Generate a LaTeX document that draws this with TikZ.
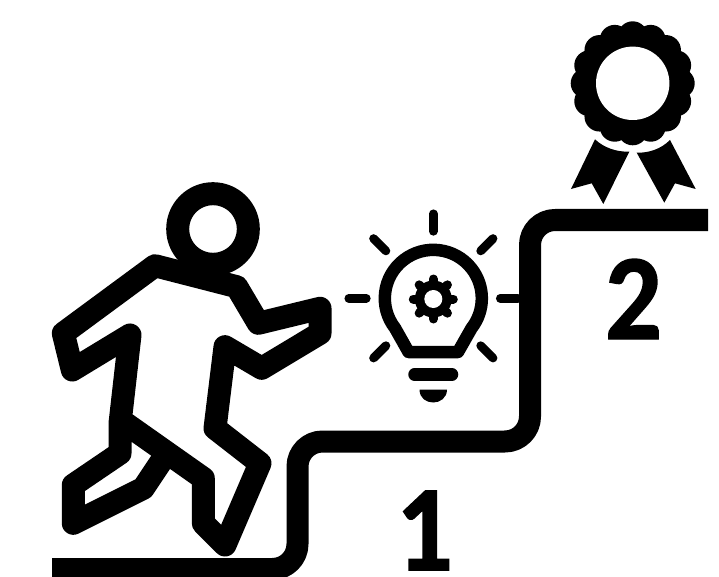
\documentclass[tikz,border=0pt]{standalone}
\usepackage{fontspec}
\setmainfont{Carlito}
\usepackage{xcolor}
\usetikzlibrary{calc}

\begin{document}
\begin{tikzpicture}[x=1pt,y=-1pt,
    thickline/.style={black,line width=23pt,line join=round},
    bulbline/.style={black,line width=12.5pt,line join=round},
    rayline/.style={black,line width=8.7pt,line cap=round},
    stepnum/.style={font=\fontsize{122}{122}\selectfont\bfseries\addfontfeature{FakeBold=1.2,FakeStretch=0.92},black,inner sep=0pt}]
  \useasboundingbox (0,0) rectangle (719,577);
  \fill[white] (0,0) rectangle (719,577);

  % Stairs
  \draw[thickline,line width=22pt,rounded corners=25pt] (52,569) -- (297.5,569) -- (297.5,441.5) -- (530,441.5) -- (530,220) -- (708,220);
  \node[stepnum] (one) at (424.5,530.5) {1};
  \node[stepnum] (two) at (633.5,299) {2};

  % Runner
  \draw[thickline] (213,229) circle (35.3);
  \draw[thickline] (122,421) -- (203.3,478.3) -- (203.3,523.3) -- (225,545) -- (260,463.3) -- (215,428.3)
    -- (225,346.7) -- (261.7,368.3) -- (320,333.3) -- (320,308.3) -- (258.3,323.3) -- (236.7,286.7)
    -- (155,265.7) -- (63.3,333.3) -- (72.3,370) -- (130,335) -- (120,423.3) -- (120,453.3)
    -- (73.3,485) -- (73.3,523.3) -- (143.3,488.3) -- (165.5,455);

  % Bulb
  \draw[bulbline] (408.5,352) -- (395.1,328.2) arc[start angle=218,end angle=-38,radius=48.5pt] -- (458,352) -- cycle;
  \draw[bulbline,line cap=round] (414.5,374.5) -- (452,374.5);
  \fill[black] (419.5,389.5) -- (447,389.5) .. controls (447,398) and (440,402.5) .. (433.3,402.5)
    .. controls (426,402.5) and (419.5,398) .. cycle;
  \foreach \a in {0,45,135,180,225,270,315} {
    \draw[rayline] ($(433.3,298.3)+(\a:67)$) -- ($(433.3,298.3)+(\a:84.5)$);
  }
  \foreach \a in {0,45,...,315} {
    \draw[rayline,line width=9pt] ($(433.3,299)+(\a:15)$) -- ($(433.3,299)+(\a:20)$);
  }
  \fill[black] (433.3,299) circle (18.5);
  \fill[white] (433.3,299) circle (9);

  % Rosette
  \fill[black] (632.7,83.3) circle (54);
  \foreach \a in {0,22.5,...,337.5} {
    \fill[black] ($(632.7,83.3)+(\a:47)$) circle (15);
  }
  \fill[white] (632.7,83.3) circle (36.7);
  \fill[black] (595,139.3) .. controls (604,148) and (617,152) .. (629.3,151.7) -- (603.3,204) -- (591.7,183.3) -- (571,189) -- cycle;
  \fill[black] (670,140) .. controls (661,149) and (649,153) .. (636.7,152.7) -- (664.3,202.7) -- (675,183.3) -- (695.7,189) -- cycle;
\end{tikzpicture}
\end{document}
